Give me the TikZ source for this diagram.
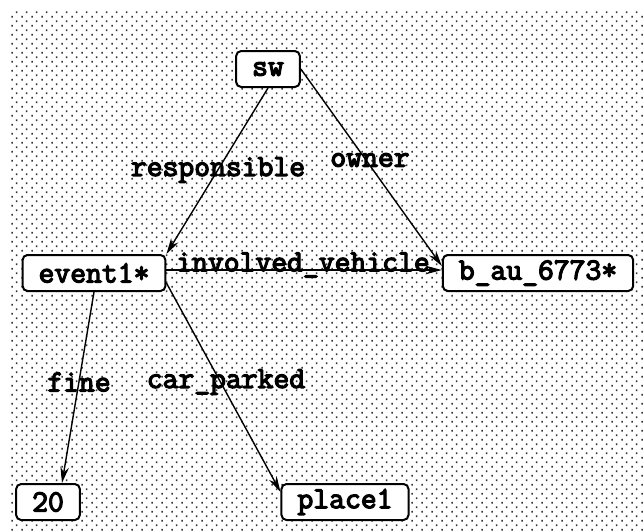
\documentclass[tikz,border=0pt]{standalone}
\usepackage{fontspec}
\newfontfamily\graphfont{Latin Modern Mono}[FakeBold=4]
\usetikzlibrary{arrows.meta,patterns.meta}

\tikzdeclarepattern{
	name=bgdots,
	type=uncolored,
	bounding box={(0,0) and (0.2,0.18)},
	tile size={(0.2,0.18)},
	code={
		\fill (0.03,0.03) rectangle (0.064,0.064);
		\fill (0.13,0.12) rectangle (0.164,0.154);
	}
}

\begin{document}
\begin{tikzpicture}[
		box/.style={draw,rounded corners=0.1cm,line width=0.04cm,fill=white,inner xsep=0.32cm,inner ysep=0.1cm,minimum height=0.72cm,font=\graphfont\fontsize{17.5pt}{20pt}\selectfont},
		lbl/.style={inner sep=0pt,font=\graphfont\fontsize{17.5pt}{20pt}\selectfont},
		link/.style={-{Stealth[length=0.32cm,width=0.17cm]},line width=0.028cm}]
			\useasboundingbox (0,0) rectangle (12.88,-10.62);
			% dotted ground
			\fill[pattern=bgdots,pattern color=black!80] (0.2,-0.2) rectangle (12.88,-10.62);
			\node[box](sw) at (5.36,-1.38){sw};
			\node[box](ev) at (1.88,-5.46){event1*};
			\node[box](bau) at (10.76,-5.46){b\_au\_6773*};
			\node[box](n20) at (0.96,-10.04){20};
			\node[box](pl) at (6.9,-10.04){place1};
			\draw[link] (sw.south) -- (ev.north east);
			\draw[link] (sw.east) -- ([yshift=0.14cm]bau.west);
			\draw[link] ([yshift=0.06cm]ev.east) -- ([yshift=0.06cm]bau.west);
			\draw[link] (ev.south) -- ([xshift=0.28cm]n20.north);
			\draw[link] ([yshift=-0.2cm]ev.east) -- ([yshift=0.2cm]pl.west);
			% edge labels
			\node[lbl](lresp) at (4.36,-3.4){responsible};
			\node[lbl](lown) at (7.4,-3.2){owner};
			\node[lbl](linv) at (6.06,-5.3){involved\_vehicle};
			\node[lbl](lfine) at (1.58,-7.64){fine};
			\node[lbl](lcar) at (4.52,-7.64){car\_parked};
		\end{tikzpicture}
\end{document}
